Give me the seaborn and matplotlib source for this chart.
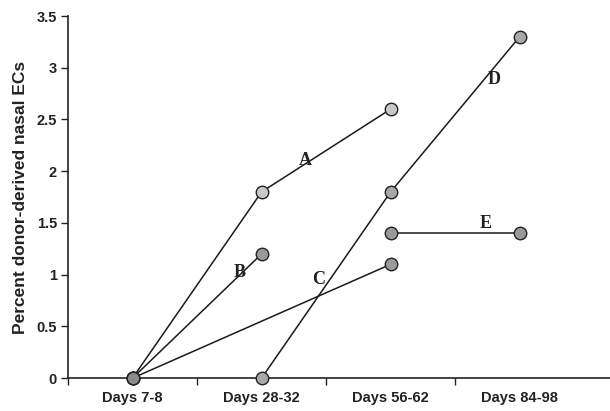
import pandas as pd
import matplotlib.pyplot as plt
import seaborn as sns

# categories and series values (None = not measured)
days = ['Days 7-8', 'Days 28-32', 'Days 56-62', 'Days 84-98']
series_a = [0, 1.8, 2.6, None]
series_b = [0, 1.2, None, None]
series_c = [0, None, 1.1, None]
series_d = [None, 0, 1.8, 3.3]
series_e = [None, None, 1.4, 1.4]
names = ['A', 'B', 'C', 'D', 'E']
label_pos = [(1.34, 2.1), (0.83, 1.02), (1.44, 0.95), (2.8, 2.89), (2.74, 1.49)]
face = ['#c8c8c8', '#9a9a9a', '#9a9a9a', '#a8a8a8', '#999999']

rows = []
for name, vals in zip(names, [series_a, series_b, series_c, series_d, series_e]):
    for i, v in enumerate(vals):
        if v is not None:
            rows.append({'series': name, 'pos': i, 'value': v})
df = pd.DataFrame(rows)

sns.set_style('white')
plt.rcParams['font.family'] = ['Liberation Sans', 'DejaVu Sans']

fig = plt.figure(figsize=(6.1, 4.11), dpi=100)
ax = fig.add_axes([0.1115, 0.08, 0.8885, 0.881])

for name, fc in zip(names, face):
    sub = df[df['series'] == name]
    sns.lineplot(data=sub, x='pos', y='value', ax=ax, color='#1a1a1a', lw=1.1,
                 marker='o', markersize=9, markerfacecolor=fc,
                 markeredgecolor='#222222', markeredgewidth=1.0,
                 estimator=None, sort=False, clip_on=False, zorder=3)

# shared start point looks darker (overlapping markers)
ax.plot([0], [0], 'o', ms=9, mfc='#8c8c8c', mec='#222222', mew=1.0, clip_on=False, zorder=4)

for name, (x, y) in zip(names, label_pos):
    ax.text(x, y, name, fontsize=13, fontweight='bold', family='Liberation Serif',
            ha='center', va='center', color='#222222')

ax.set_xlim(-0.5, 3.7)
ax.set_ylim(0, 3.5)
ax.set_xticks([-0.5, 0.5, 1.5, 2.5])
ax.set_xticks(range(4), minor=True)
ax.set_xticklabels([])
ax.set_xticklabels(days, minor=True, fontsize=10.5, fontweight='bold', color='#222222')
ax.tick_params(axis='x', which='major', length=5, width=1, color='#222222', direction='out', bottom=True)
ax.tick_params(axis='x', which='minor', length=0, pad=9)
ax.set_yticks([0, 0.5, 1, 1.5, 2, 2.5, 3, 3.5])
ax.set_yticklabels(['0', '0.5', '1', '1.5', '2', '2.5', '3', '3.5'],
                   fontsize=10.5, fontweight='bold', color='#222222')
ax.tick_params(axis='y', length=5, width=1, color='#222222', direction='out', left=True, pad=3)

ax.set_xlabel('')
ax.set_ylabel('Percent donor-derived nasal ECs', fontsize=12.5, fontweight='bold',
              color='#222222', labelpad=6)

for side in ['top', 'right']:
    ax.spines[side].set_visible(False)
for side in ['left', 'bottom']:
    ax.spines[side].set_color('#222222')
    ax.spines[side].set_linewidth(1.2)

fig.savefig('out.png', dpi=100)
